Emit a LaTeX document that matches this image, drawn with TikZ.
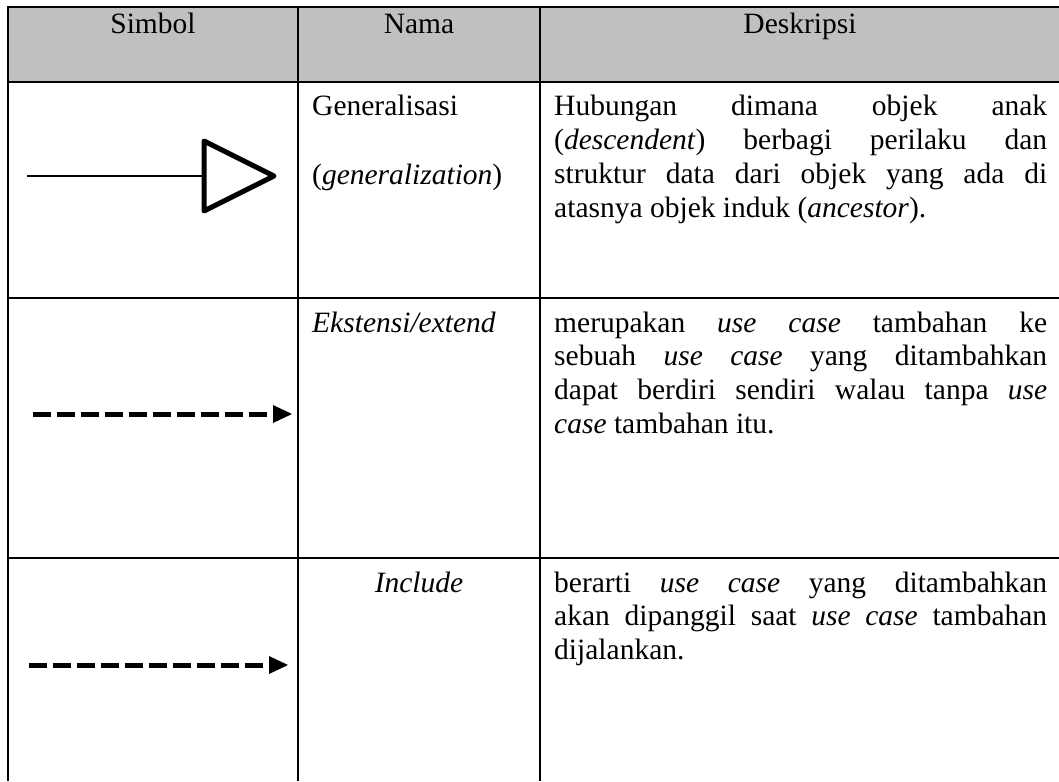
\documentclass[tikz,border=0pt]{standalone}
\usepackage{fontspec}
\setmainfont{Liberation Serif}
\definecolor{hdrgray}{RGB}{192,192,192}
\newcommand\justsetup{\tolerance=10000\relax\hbadness=10000\relax\hyphenpenalty=10000\relax\frenchspacing}
\begin{document}
\begin{tikzpicture}[x=1pt,y=-1pt,
  grid/.style={line width=2.7pt},
  txt/.style={inner sep=0pt, font=\fontsize{29.5}{33.9}\selectfont},
  desc/.style={inner sep=0pt, text width=493pt, align=justify, anchor=base west,
    font=\fontsize{29.5}{33.9}\selectfont},
  dashline/.style={line width=5pt, dash pattern=on 18pt off 6pt},
  thinline/.style={line width=2pt},
  tri/.style={line width=5pt, line join=round},
]
\useasboundingbox (0,0) rectangle (1059,781);
% header fill
\fill[hdrgray] (8,7) rectangle (1059,82);
% grid
\draw[grid] (1059,7) -- (8,7) -- (8,781);
\draw[grid] (8,82) -- (1059,82);
\draw[grid] (8,298) -- (1059,298);
\draw[grid] (8,558) -- (1059,558);
\draw[grid] (298,7) -- (298,781);
\draw[grid] (540,7) -- (540,781);

% header texts
\node[txt, anchor=base] (hsim) at (153,34) {Simbol};
\node[txt, anchor=base] (hnam) at (419,34) {Nama};
\node[txt, anchor=base] (hdes) at (800,34) {Deskripsi};

% row 1: generalization symbol
\coordinate (g0) at (27,176);
\coordinate (gb) at (204,176);
\coordinate (gt) at (204,141);
\coordinate (gd) at (204,211);
\coordinate (ga) at (274,176);
\draw[thinline] (g0) -- (gb);
\draw[tri] (gt) -- (ga) -- (gd) -- cycle;
\node[txt, anchor=base west] (n1a) at (312,116) {Generalisasi};
\node[txt, anchor=base west] (n1b) at (312,184) {(\textit{generalization})};
\node[desc] (d1) at (554,116) {\justsetup Hubungan dimana objek anak\linebreak (\textit{descendent}) berbagi perilaku dan\linebreak struktur data dari objek yang ada di\linebreak atasnya objek induk (\textit{ancestor}).};

% row 2: extend symbol
\coordinate (e0) at (33,414);
\coordinate (eb) at (273,414);
\draw[dashline] (e0) -- (eb);
\fill (273,405) -- (292,414) -- (273,423) -- cycle;
\node[txt, anchor=base west] (n2) at (312,332) {\textit{Ekstensi/extend}};
\node[desc] (d2) at (554,332) {\justsetup merupakan \textit{use case} tambahan ke\linebreak sebuah \textit{use case} yang ditambahkan\linebreak dapat berdiri sendiri walau tanpa \textit{use}\linebreak \textit{case} tambahan itu.};

% row 3: include symbol
\coordinate (i0) at (29,665);
\coordinate (ib) at (269,665);
\draw[dashline] (i0) -- (ib);
\fill (269,656) -- (288,665) -- (269,674) -- cycle;
\node[txt, anchor=base] (n3) at (419,592) {\textit{Include}};
\node[desc] (d3) at (554,592) {\justsetup berarti \textit{use case} yang ditambahkan\linebreak akan dipanggil saat \textit{use case} tambahan\linebreak dijalankan.};
\end{tikzpicture}
\end{document}
